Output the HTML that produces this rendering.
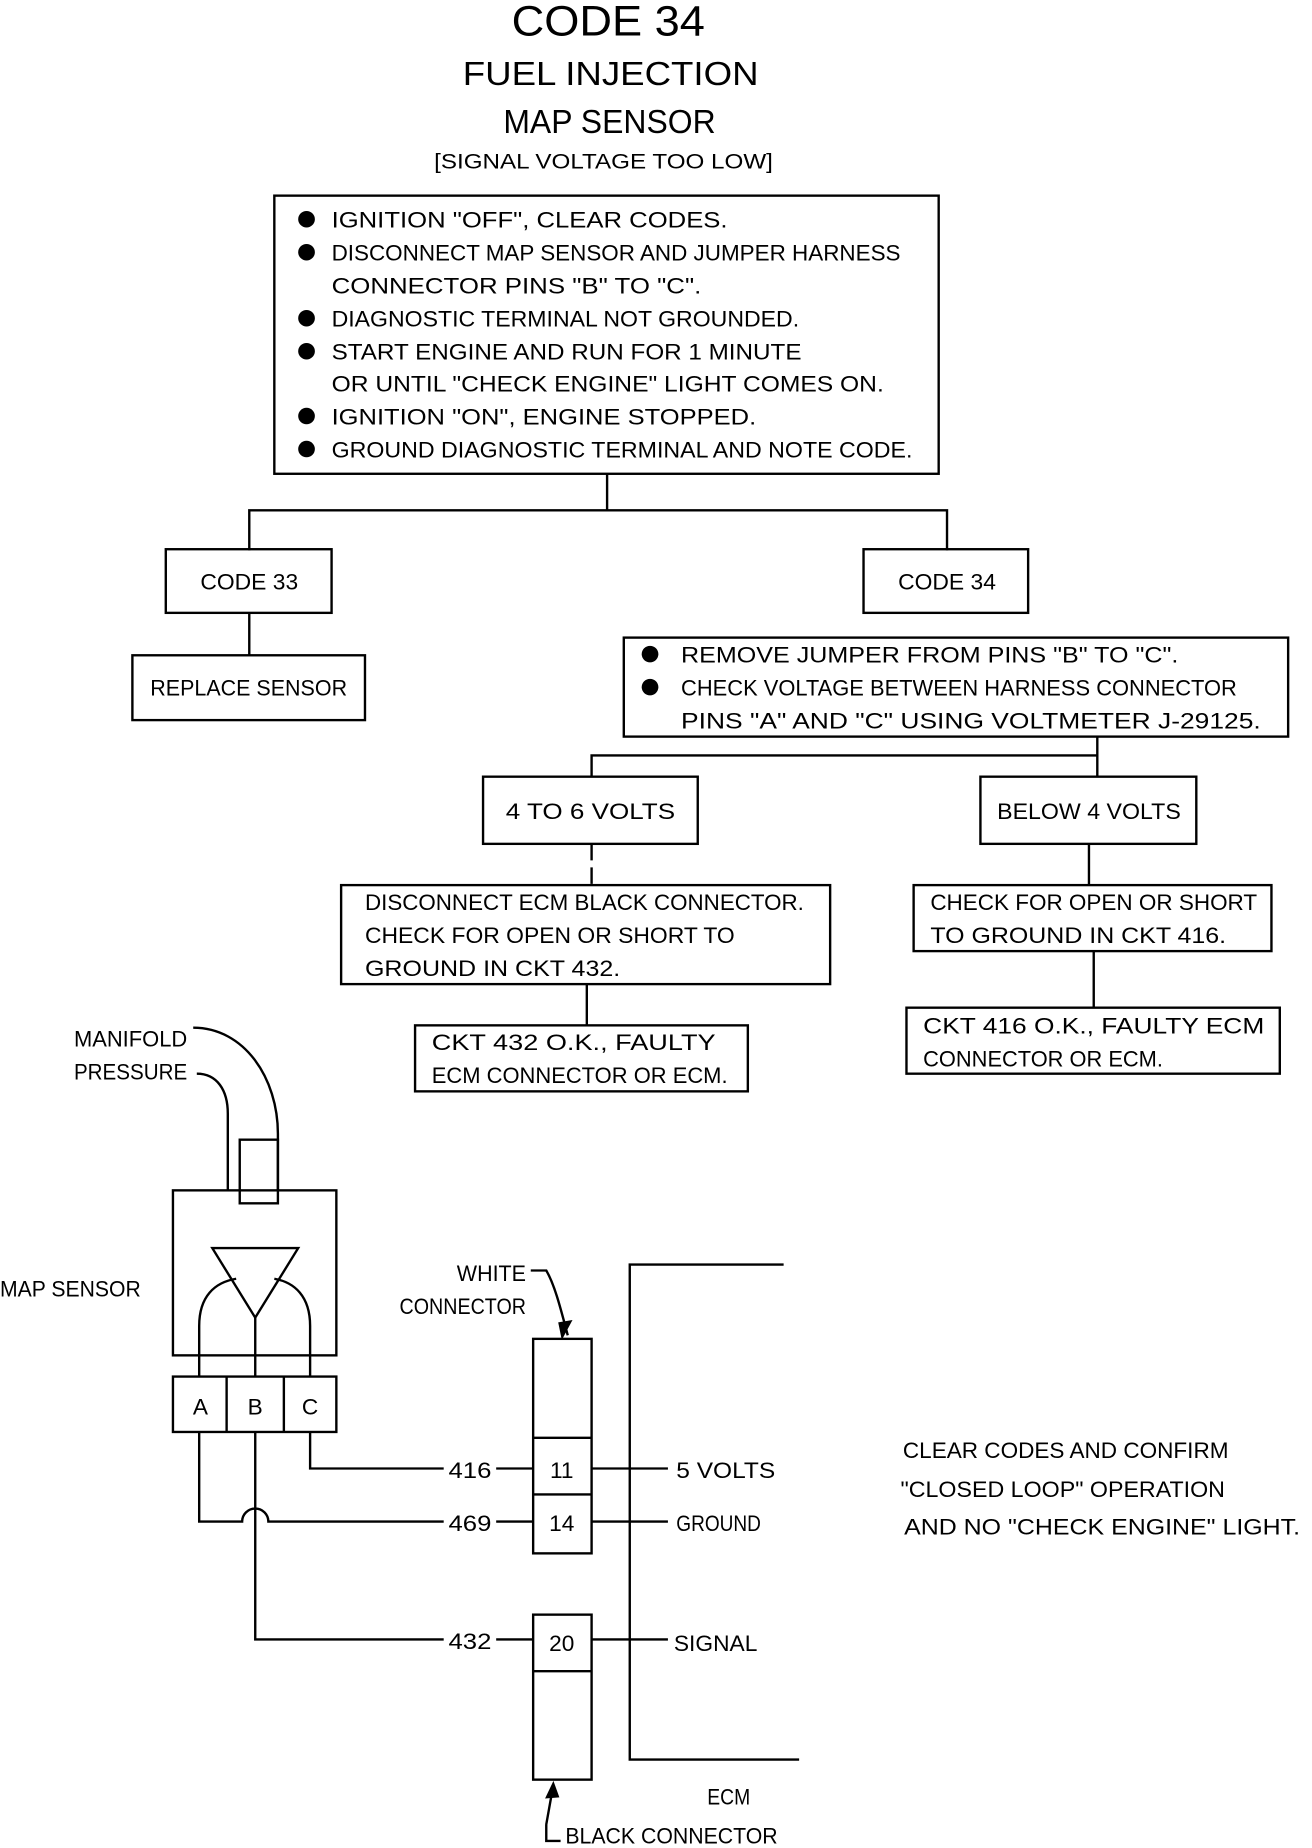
<!DOCTYPE html>
<html><head><meta charset="utf-8"><style>
html,body{margin:0;padding:0;background:#fff;}
svg{display:block;}
text{font-family:"Liberation Sans",sans-serif;font-size:19px;fill:#000;}
</style></head><body>
<svg width="1312" height="1848" viewBox="0 0 1100 1568" preserveAspectRatio="none" xmlns="http://www.w3.org/2000/svg">
<g fill="none" stroke="#000" stroke-width="2">
<rect x="230" y="166" width="557" height="236"/>
<path d="M509 402V433M209 467V433H794V467"/>
<rect x="139" y="466" width="139" height="54"/>
<path d="M209 520V556"/>
<rect x="111" y="556" width="195" height="55"/>
<rect x="724" y="466" width="138" height="54"/>
<rect x="523" y="541" width="557" height="84"/>
<path d="M920 625V659M496 659V641H920"/>
<rect x="405" y="659" width="180" height="57"/>
<rect x="822" y="659" width="181" height="57"/>
<path d="M496 716V751" stroke-dasharray="14 6"/>
<rect x="286" y="751" width="410" height="84"/>
<path d="M492 835V870"/>
<rect x="348" y="870" width="279" height="56"/>
<path d="M913 716V751"/>
<rect x="766" y="751" width="300" height="56"/>
<path d="M917 807V855"/>
<rect x="760" y="855" width="313" height="56"/>
<!-- schematic -->
<path d="M162 872C205 872 233 915 233 962V1010"/>
<path d="M165 911C182 911 191 925 191 945V1010"/>
<rect x="201" y="967" width="32" height="54"/>
<rect x="145" y="1010" width="137" height="140"/>
<path d="M178 1059H250L214 1118Z"/>
<path d="M167 1168V1125C167 1100 180 1088 198 1085"/>
<path d="M260 1168V1125C260 1100 247 1088 230 1085"/>
<path d="M214 1118V1168"/>
<rect x="145" y="1168" width="137" height="47"/>
<path d="M190 1168V1215M238 1168V1215"/>
<path d="M167 1215V1291H203A11 11 0 0 1 225 1291H372"/>
<path d="M260 1215V1246H372"/>
<path d="M214 1215V1391H372"/>
<path d="M416 1246H447M416 1291H447M416 1391H447"/>
<rect x="447" y="1136" width="49" height="182"/>
<path d="M447 1220H496M447 1268H496"/>
<rect x="447" y="1370" width="49" height="140"/>
<path d="M447 1418H496"/>
<path d="M496 1246H560M496 1291H560M496 1391H560"/>
<path d="M657 1073H528V1493H670"/>
<path d="M445 1078H458C465 1090 470 1110 476 1133"/>
<path d="M458 1548V1562H470M458 1548L464 1514"/>
</g>
<path d="M471 1137L480 1120L468 1122Z" fill="#000"/>
<path d="M464 1511L457 1526L469 1525Z" fill="#000"/>
<g fill="#000">
<circle cx="257" cy="186" r="7"/><circle cx="257" cy="214" r="7"/><circle cx="257" cy="270" r="7"/><circle cx="257" cy="298" r="7"/><circle cx="257" cy="353" r="7"/><circle cx="257" cy="381" r="7"/>
<circle cx="545" cy="555" r="7"/><circle cx="545" cy="583" r="7"/>
</g>
<text x="510" y="30" text-anchor="middle" style="font-size:36px" textLength="162" lengthAdjust="spacingAndGlyphs">CODE 34</text>
<text x="388" y="72" style="font-size:28px" textLength="248" lengthAdjust="spacingAndGlyphs">FUEL INJECTION</text>
<text x="422" y="113" style="font-size:28px" textLength="178" lengthAdjust="spacingAndGlyphs">MAP SENSOR</text>
<text x="364" y="143" style="font-size:18px" textLength="284" lengthAdjust="spacingAndGlyphs">[SIGNAL VOLTAGE TOO LOW]</text>
<text x="278" y="193" textLength="332" lengthAdjust="spacingAndGlyphs">IGNITION "OFF", CLEAR CODES.</text>
<text x="278" y="221" textLength="477" lengthAdjust="spacingAndGlyphs">DISCONNECT MAP SENSOR AND JUMPER HARNESS</text>
<text x="278" y="249" textLength="310" lengthAdjust="spacingAndGlyphs">CONNECTOR PINS "B" TO "C".</text>
<text x="278" y="277" textLength="392" lengthAdjust="spacingAndGlyphs">DIAGNOSTIC TERMINAL NOT GROUNDED.</text>
<text x="278" y="305" textLength="394" lengthAdjust="spacingAndGlyphs">START ENGINE AND RUN FOR 1 MINUTE</text>
<text x="278" y="332" textLength="463" lengthAdjust="spacingAndGlyphs">OR UNTIL "CHECK ENGINE" LIGHT COMES ON.</text>
<text x="278" y="360" textLength="356" lengthAdjust="spacingAndGlyphs">IGNITION "ON", ENGINE STOPPED.</text>
<text x="278" y="388" textLength="487" lengthAdjust="spacingAndGlyphs">GROUND DIAGNOSTIC TERMINAL AND NOTE CODE.</text>
<text x="168" y="500" textLength="82" lengthAdjust="spacingAndGlyphs">CODE 33</text>
<text x="126" y="590" textLength="165" lengthAdjust="spacingAndGlyphs">REPLACE SENSOR</text>
<text x="753" y="500" textLength="82" lengthAdjust="spacingAndGlyphs">CODE 34</text>
<text x="571" y="562" textLength="417" lengthAdjust="spacingAndGlyphs">REMOVE JUMPER FROM PINS "B" TO "C".</text>
<text x="571" y="590" textLength="466" lengthAdjust="spacingAndGlyphs">CHECK VOLTAGE BETWEEN HARNESS CONNECTOR</text>
<text x="571" y="618" textLength="486" lengthAdjust="spacingAndGlyphs">PINS "A" AND "C" USING VOLTMETER J-29125.</text>
<text x="424" y="695" textLength="142" lengthAdjust="spacingAndGlyphs">4 TO 6 VOLTS</text>
<text x="836" y="695" textLength="154" lengthAdjust="spacingAndGlyphs">BELOW 4 VOLTS</text>
<text x="306" y="772" textLength="368" lengthAdjust="spacingAndGlyphs">DISCONNECT ECM BLACK CONNECTOR.</text>
<text x="306" y="800" textLength="310" lengthAdjust="spacingAndGlyphs">CHECK FOR OPEN OR SHORT TO</text>
<text x="306" y="828" textLength="214" lengthAdjust="spacingAndGlyphs">GROUND IN CKT 432.</text>
<text x="362" y="891" textLength="238" lengthAdjust="spacingAndGlyphs">CKT 432 O.K., FAULTY</text>
<text x="362" y="919" textLength="248" lengthAdjust="spacingAndGlyphs">ECM CONNECTOR OR ECM.</text>
<text x="780" y="772" textLength="274" lengthAdjust="spacingAndGlyphs">CHECK FOR OPEN OR SHORT</text>
<text x="780" y="800" textLength="248" lengthAdjust="spacingAndGlyphs">TO GROUND IN CKT 416.</text>
<text x="774" y="877" textLength="286" lengthAdjust="spacingAndGlyphs">CKT 416 O.K., FAULTY ECM</text>
<text x="774" y="905" textLength="201" lengthAdjust="spacingAndGlyphs">CONNECTOR OR ECM.</text>
<text x="62" y="888" textLength="95" lengthAdjust="spacingAndGlyphs">MANIFOLD</text>
<text x="62" y="916" textLength="95" lengthAdjust="spacingAndGlyphs">PRESSURE</text>
<text x="0" y="1100" textLength="118" lengthAdjust="spacingAndGlyphs">MAP SENSOR</text>
<text x="168" y="1200" text-anchor="middle">A</text>
<text x="214" y="1200" text-anchor="middle">B</text>
<text x="260" y="1200" text-anchor="middle">C</text>
<text x="376" y="1254" textLength="36" lengthAdjust="spacingAndGlyphs">416</text>
<text x="376" y="1299" textLength="36" lengthAdjust="spacingAndGlyphs">469</text>
<text x="376" y="1399" textLength="36" lengthAdjust="spacingAndGlyphs">432</text>
<text x="471" y="1254" text-anchor="middle">11</text>
<text x="471" y="1299" text-anchor="middle">14</text>
<text x="471" y="1401" text-anchor="middle">20</text>
<text x="567" y="1254" textLength="83" lengthAdjust="spacingAndGlyphs">5 VOLTS</text>
<text x="567" y="1299" textLength="71" lengthAdjust="spacingAndGlyphs">GROUND</text>
<text x="565" y="1401" textLength="70" lengthAdjust="spacingAndGlyphs">SIGNAL</text>
<text x="383" y="1087" textLength="58" lengthAdjust="spacingAndGlyphs">WHITE</text>
<text x="335" y="1115" textLength="106" lengthAdjust="spacingAndGlyphs">CONNECTOR</text>
<text x="593" y="1531" textLength="36" lengthAdjust="spacingAndGlyphs">ECM</text>
<text x="474" y="1564" textLength="178" lengthAdjust="spacingAndGlyphs">BLACK CONNECTOR</text>
<text x="757" y="1237" textLength="273" lengthAdjust="spacingAndGlyphs">CLEAR CODES AND CONFIRM</text>
<text x="755" y="1270" textLength="272" lengthAdjust="spacingAndGlyphs">"CLOSED LOOP" OPERATION</text>
<text x="758" y="1302" textLength="332" lengthAdjust="spacingAndGlyphs">AND NO "CHECK ENGINE" LIGHT.</text>
</svg>
</body></html>
